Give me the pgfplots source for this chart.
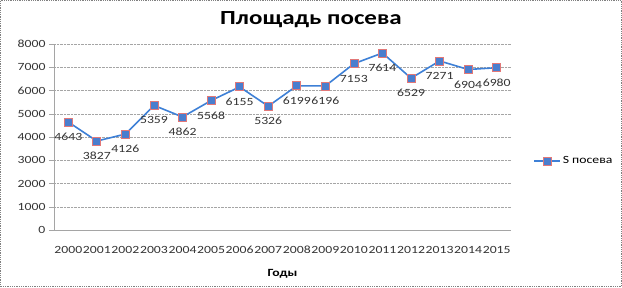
\documentclass[border=0pt]{standalone}
\usepackage{fontspec}
\setmainfont[FakeStretch=1.25]{Carlito}
\usepackage{pgfplots}
\pgfplotsset{compat=1.18}
\definecolor{lineblue}{RGB}{62,128,214}
\definecolor{markfill}{RGB}{74,126,206}
\definecolor{markdraw}{RGB}{226,120,120}
\definecolor{gridgray}{RGB}{165,165,165}
\begin{document}
\begin{tikzpicture}
\useasboundingbox (0,0) rectangle (622pt,287pt);
\draw[gray, densely dotted, line width=0.8pt] (0.5pt,0.5pt) rectangle (621.5pt,286.5pt);
\node[font=\fontsize{20}{24}\selectfont\bfseries] at (311pt,267pt) {Площадь посева};
\begin{axis}[
  at={(54pt,57pt)}, anchor=south west,
  scale only axis, width=457pt, height=186pt,
  xmin=-0.5, xmax=15.5, ymin=0, ymax=8000,
  axis x line=bottom, axis y line=left,
  axis line style={gridgray, -},
  xtick={0,...,15},
  xticklabels={2000,2001,2002,2003,2004,2005,2006,2007,2008,2009,2010,2011,2012,2013,2014,2015},
  ytick={0,1000,...,8000},
  tick align=outside,
  tick style={gridgray},
  x tick style={draw=none},
  extra x ticks={-0.5,0.5,...,15.5},
  extra x tick labels={},
  extra x tick style={tick style={gridgray, draw=gridgray}, major tick length=5pt, grid=none},
  major tick length=5pt,
  ymajorgrids,
  grid style={gridgray, densely dotted},
  /pgf/number format/assume math mode=true,
  /pgf/number format/1000 sep={},
  tick label style={font=\fontsize{11}{13}\selectfont, text=black!80},
  xticklabel style={anchor=center, yshift=-15pt, inner sep=0pt},
  xlabel={Годы},
  xlabel style={at={(axis description cs:0.5,0)}, anchor=center, yshift=-44pt, font=\fontsize{11}{13}\selectfont\bfseries},
  legend style={at={(axis description cs:1,0.371)}, anchor=west, xshift=22pt, draw=none, fill=none, font=\fontsize{11}{13}\selectfont, inner sep=0pt},
  legend image code/.code={\draw[mark repeat=2,mark phase=2,#1] plot coordinates {(0pt,0pt) (13pt,0pt) (26pt,0pt)};},
  clip=false,
]
\addplot[lineblue, line width=1.6pt, mark=square*, mark size=4pt,
  mark options={fill=markfill, draw=markdraw, line width=0.8pt},
  nodes near coords, point meta=explicit symbolic,
  every node near coord/.append style={font=\fontsize{11}{13}\selectfont, text=black!80, anchor=center, yshift=-15pt, inner sep=0pt}]
  table[meta=v] {
x v y
0 4643 4643
1 3827 3827
2 4126 4126
3 5359 5359
4 4862 4862
5 5568 5568
6 6155 6155
7 5326 5326
8 6199 6199
9 6196 6196
10 7153 7153
11 7614 7614
12 6529 6529
13 7271 7271
14 6904 6904
15 6980 6980
};
\addlegendentry{S посева}
\end{axis}
\end{tikzpicture}
\end{document}
